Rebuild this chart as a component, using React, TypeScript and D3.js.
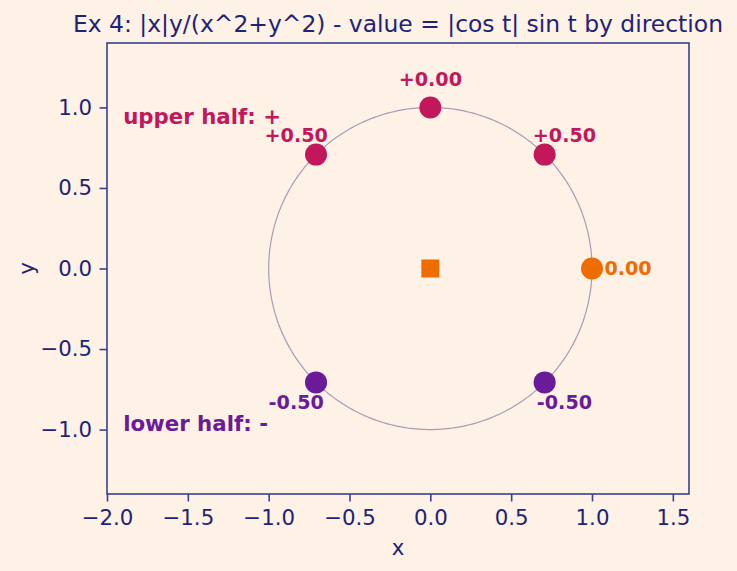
import React, { useEffect, useRef } from "react";
import * as d3 from "d3";

// sample directions on the unit circle and the value |cos t| sin t at each
const directionsDeg = [0, 45, 90, 135, 225, 315];
const values = [0.0, 0.5, 0.0, 0.5, -0.5, -0.5];
const xTicks = [-2.0, -1.5, -1.0, -0.5, 0.0, 0.5, 1.0, 1.5];
const yTicks = [-1.0, -0.5, 0.0, 0.5, 1.0];
const halfLabels = ["upper half: +", "lower half: -"];

const W = 737;
const H = 571;
const margin = { left: 107, right: 48, top: 43, bottom: 77 };

const BG = "#fef1e6";
const INK = "#1f2377";
const SPINE = "#3c3f8f";
const UPPER = "#c2185b";
const LOWER = "#6a1b9a";
const ZERO = "#ef6c00";
const RING = "#a99bb8";
const FONT = "DejaVu Sans, sans-serif";
const PT = 2.13; // px per point

const fmtTick = (v: number) => d3.format(".1f")(v).replace("-", "\u2212");
const fmtVal = (v: number) => (v >= 0 ? "+" : "") + v.toFixed(2);

export default function App() {
  const svgRef = useRef<SVGSVGElement>(null);

  useEffect(() => {
    const svg = d3.select(svgRef.current);
    svg.selectAll("*").remove();

    const x = d3.scaleLinear().domain([-2.0, 1.6]).range([margin.left, W - margin.right]);
    const y = d3.scaleLinear().domain([-1.4, 1.4]).range([H - margin.bottom, margin.top]);

    svg.append("rect").attr("width", W).attr("height", H).attr("fill", BG);

    // unit circle
    const ring = d3.range(0, 361, 1).map((a) => [Math.cos((a * Math.PI) / 180), Math.sin((a * Math.PI) / 180)]);
    svg
      .append("path")
      .attr("d", d3.line<number[]>().x((d) => x(d[0])).y((d) => y(d[1]))(ring) as string)
      .attr("fill", "none")
      .attr("stroke", RING)
      .attr("stroke-width", 1.2);

    const pts = directionsDeg.map((deg, i) => {
      const t = (deg * Math.PI) / 180;
      const cx = Math.round(Math.cos(t) * 1e9) / 1e9;
      const cy = Math.round(Math.sin(t) * 1e9) / 1e9;
      const color = cy > 0 ? UPPER : cy < 0 ? LOWER : ZERO;
      return { t, cx, cy, value: values[i], color };
    });

    // value labels, pushed out radially from each point
    svg
      .append("g")
      .selectAll("text")
      .data(pts)
      .join("text")
      .attr("x", (d) => x(d.cx) + 28 * Math.cos(d.t))
      .attr("y", (d) => y(d.cy) - 28 * Math.sin(d.t))
      .attr("dy", "0.36em")
      .attr("text-anchor", "middle")
      .attr("font-family", FONT)
      .attr("font-weight", "bold")
      .attr("font-size", 9 * PT)
      .attr("fill", (d) => d.color)
      .text((d) => fmtVal(d.value));

    svg
      .append("g")
      .selectAll("circle")
      .data(pts)
      .join("circle")
      .attr("cx", (d) => x(d.cx))
      .attr("cy", (d) => y(d.cy))
      .attr("r", 11)
      .attr("fill", (d) => d.color);

    // origin marker
    svg
      .append("rect")
      .attr("x", x(0) - 9)
      .attr("y", y(0) - 9)
      .attr("width", 18)
      .attr("height", 18)
      .attr("fill", ZERO);

    svg
      .append("g")
      .selectAll("text")
      .data(halfLabels)
      .join("text")
      .attr("x", x(-1.9))
      .attr("y", (_, i) => y(i === 0 ? 0.95 : -0.95))
      .attr("dy", 9)
      .attr("font-family", FONT)
      .attr("font-weight", "bold")
      .attr("font-size", 10 * PT)
      .attr("fill", (_, i) => (i === 0 ? UPPER : LOWER))
      .text((d) => d);

    // frame
    svg
      .append("rect")
      .attr("x", margin.left)
      .attr("y", margin.top)
      .attr("width", W - margin.left - margin.right)
      .attr("height", H - margin.top - margin.bottom)
      .attr("fill", "none")
      .attr("stroke", SPINE)
      .attr("stroke-width", 1.6);

    const tickLen = 3.5 * PT;
    const xAxis = svg
      .append("g")
      .attr("transform", `translate(0,${H - margin.bottom})`)
      .call(d3.axisBottom(x).tickValues(xTicks).tickFormat((v) => fmtTick(+v)).tickSize(tickLen).tickSizeOuter(0));
    const yAxis = svg
      .append("g")
      .attr("transform", `translate(${margin.left},0)`)
      .call(d3.axisLeft(y).tickValues(yTicks).tickFormat((v) => fmtTick(+v)).tickSize(tickLen).tickSizeOuter(0));

    [xAxis, yAxis].forEach((g) => {
      g.select(".domain").remove();
      g.selectAll(".tick line").attr("stroke", SPINE).attr("stroke-width", 1.6);
      g.selectAll(".tick text")
        .attr("fill", INK)
        .attr("font-family", FONT)
        .attr("font-size", 10 * PT);
    });
    xAxis.selectAll(".tick text").attr("y", tickLen * 2).attr("dy", "0.76em");
    yAxis.selectAll(".tick text").attr("x", -tickLen * 2);

    svg
      .append("text")
      .attr("x", (margin.left + W - margin.right) / 2)
      .attr("y", 555)
      .attr("text-anchor", "middle")
      .attr("font-family", FONT)
      .attr("font-size", 10 * PT)
      .attr("fill", INK)
      .text("x");

    svg
      .append("text")
      .attr("transform", `translate(34,${y(0)}) rotate(-90)`)
      .attr("text-anchor", "middle")
      .attr("font-family", FONT)
      .attr("font-size", 10 * PT)
      .attr("fill", INK)
      .text("y");

    svg
      .append("text")
      .attr("x", (margin.left + W - margin.right) / 2)
      .attr("y", 32)
      .attr("text-anchor", "middle")
      .attr("font-family", FONT)
      .attr("font-size", 11 * PT)
      .attr("fill", INK)
      .text("Ex 4: |x|y/(x^2+y^2) - value = |cos t| sin t by direction");
  }, []);

  return (
    <div style={{ position: "absolute", left: 0, top: 0 }}>
      <svg ref={svgRef} width={W} height={H} style={{ display: "block" }} />
    </div>
  );
}
